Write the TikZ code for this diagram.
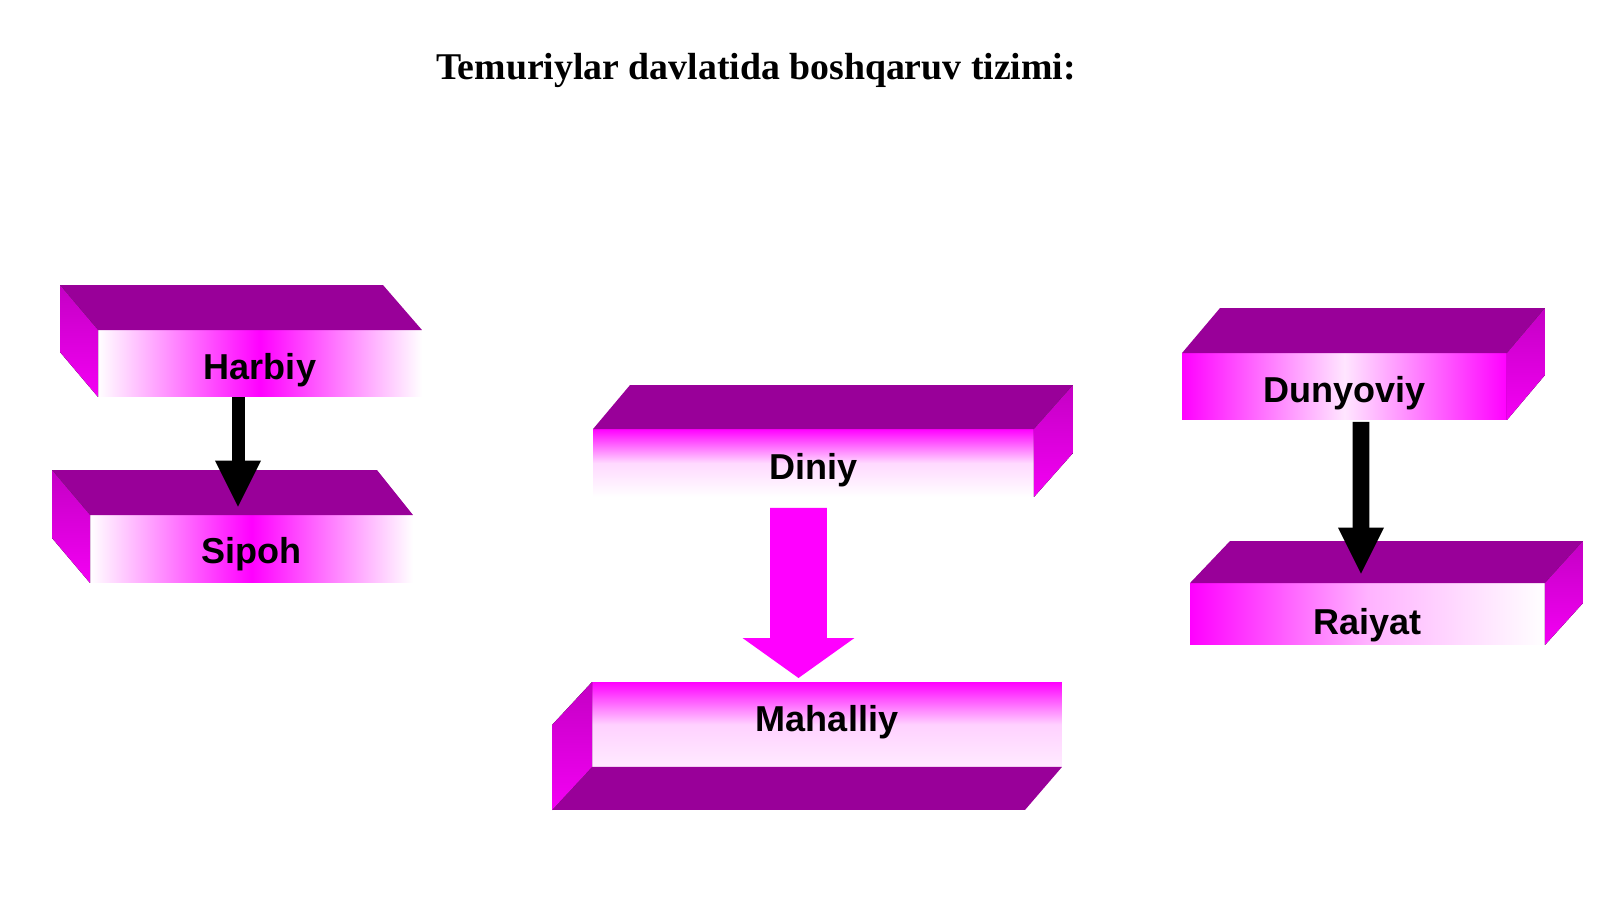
\documentclass[tikz,border=0pt]{standalone}
\usepackage{fontspec}
\setmainfont{Liberation Serif}
\newfontfamily\labelfont{Liberation Sans}
\usetikzlibrary{arrows.meta,calc,positioning}
\definecolor{deepviolet}{HTML}{990099}
\definecolor{shinymagenta}{HTML}{FF00FF}
\definecolor{sidedark}{HTML}{C400C4}
\definecolor{sidelight}{HTML}{F400F4}

\begin{document}
\begin{tikzpicture}[x=0.02cm,y=-0.02cm,
   face/.style={rectangle,inner sep=0pt,outer sep=0pt,text=black,
     font=\labelfont\bfseries\fontsize{20.5}{24}\selectfont,text height=18.5pt,text depth=0pt},
   roof/.style={fill=deepviolet},
   wall/.style={top color=sidedark,bottom color=sidelight},
   blackarrow/.style={draw=black,-{Triangle[width=24pt,length=27pt]}},
   pinkarrow/.style={draw=shinymagenta,line width=32.3pt,-{Triangle[width=62.4pt,length=22.7pt]}}]
   \useasboundingbox (0,0) rectangle (1600,899);
   \node[font=\bfseries\fontsize{21.5}{25}\selectfont,anchor=base] (title) at (756,79) {Temuriylar davlatida boshqaruv tizimi:};

   % front faces
   \node[face,minimum width=6.48cm,minimum height=1.34cm,left color=white,right color=white,middle color=shinymagenta] (harbiy) at (260,363.5) {Harbiy};
   \node[face,minimum width=6.46cm,minimum height=1.36cm,left color=white,right color=white,middle color=shinymagenta,text height=16pt] (sipoh) at (251.5,549) {Sipoh};
   \node[face,minimum width=8.82cm,minimum height=1.36cm,top color=shinymagenta,bottom color=white,middle color=shinymagenta!15] (diniy) at (813.5,463) {Diniy};
   \node[face,minimum width=9.4cm,minimum height=1.7cm,top color=shinymagenta,bottom color=shinymagenta!8,middle color=shinymagenta!18,text height=14pt,text depth=5.5pt] (mahalliy) at (827,724.5) {Mahalliy};
   \node[face,minimum width=6.5cm,minimum height=1.34cm,left color=shinymagenta,right color=shinymagenta,middle color=shinymagenta!10] (dunyoviy) at (1344.5,386.5) {Dunyoviy};
   \node[face,minimum width=7.1cm,minimum height=1.24cm,left color=shinymagenta,right color=white,middle color=shinymagenta!30,text height=23.8pt] (raiyat) at (1367.5,614) {Raiyat};

   % top and side faces
   \fill[roof] (harbiy.north west) -- (harbiy.north east) -- ++(-39,-45) -- ($(harbiy.north west)+(-38,-45)$) -- cycle;
   \fill[wall] (harbiy.north west) -- ++(-38,-45) -- ++(0,67) -- (harbiy.south west) -- cycle;
   \fill[roof] (sipoh.north west) -- (sipoh.north east) -- ++(-36,-45) -- ($(sipoh.north west)+(-38,-45)$) -- cycle;
   \fill[wall] (sipoh.north west) -- ++(-38,-45) -- ++(0,68) -- (sipoh.south west) -- cycle;
   \fill[roof] (diniy.north west) -- (diniy.north east) -- ++(39,-44) -- ($(diniy.north west)+(37,-44)$) -- cycle;
   \fill[wall] (diniy.north east) -- ++(39,-44) -- ++(0,68) -- (diniy.south east) -- cycle;
   \fill[roof] (mahalliy.south west) -- (mahalliy.south east) -- ++(-37,43) -- ($(mahalliy.south west)+(-40,43)$) -- cycle;
   \fill[wall] (mahalliy.north west) -- ++(-40,43) -- ++(0,85) -- (mahalliy.south west) -- cycle;
   \fill[roof] (dunyoviy.north west) -- (dunyoviy.north east) -- ++(38,-45) -- ($(dunyoviy.north west)+(38,-45)$) -- cycle;
   \fill[wall] (dunyoviy.north east) -- ++(38,-45) -- ++(0,67) -- (dunyoviy.south east) -- cycle;
   \fill[roof] (raiyat.north west) -- (raiyat.north east) -- ++(38,-42) -- ($(raiyat.north west)+(40,-42)$) -- cycle;
   \fill[wall] (raiyat.north east) -- ++(38,-42) -- ++(0,62) -- (raiyat.south east) -- cycle;

   % arrows
   \draw[blackarrow,line width=7.4pt] ($(harbiy.south)+(-22,0)$) -- ($(sipoh.north)+(-13.5,-7)$);
   \draw[pinkarrow] ($(diniy.south)+(-15,11)$) -- ($(mahalliy.north)+(-28.5,-4)$);
   \draw[blackarrow,line width=9.5pt] ($(dunyoviy.south)+(16.5,2)$) -- ($(raiyat.north)+(-6.5,-8)$);
\end{tikzpicture}
\end{document}
